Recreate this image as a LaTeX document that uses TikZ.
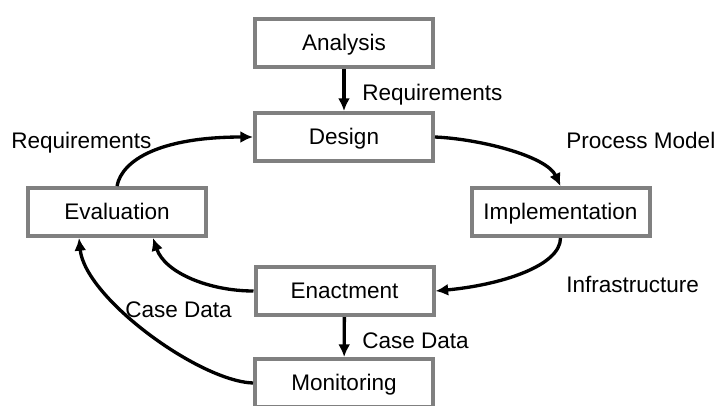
\documentclass[tikz,border=0pt]{standalone}
\usepackage{fontspec}
\setmainfont{Liberation Sans}
\usetikzlibrary{arrows.meta}

\tikzset{
  phase/.style={draw={rgb,255:red,128;green,128;blue,128}, line width=3pt, fill=white,
    minimum width=133.5pt, minimum height=36pt, inner sep=0pt, text height=11.25pt, text depth=0pt,
    font=\fontsize{16.9}{20}\selectfont},
  flow/.style={line width=2.5pt, -{Latex[length=9.5pt,width=9pt]}},
  lbl/.style={anchor=base west, inner sep=0pt, font=\fontsize{16.9}{20}\selectfont}
}

\begin{document}
\begin{tikzpicture}[x=0.75pt,y=0.75pt,yscale=-1]
\useasboundingbox (0,0) rectangle (722,405);

%Boxes
\node[phase] (analysis) at (344,43) {Analysis};
\node[phase] (design) at (344,137) {Design};
\node[phase] (evaluation) at (117,212) {Evaluation};
\node[phase] (implementation) at (560.5,212) {Implementation};
\node[phase] (enactment) at (344.5,291) {Enactment};
\node[phase] (monitoring) at (344,383) {Monitoring};

%Labels (placed at their baselines)
\node[lbl] (reqtop) at (362,100) {Requirements};
\node[lbl] (reqleft) at (11,148) {Requirements};
\node[lbl] (procmodel) at (566,148) {Process Model};
\node[lbl] (infra) at (566,292) {Infrastructure};
\node[lbl] (caseleft) at (125,317) {Case Data};
\node[lbl] (casebottom) at (362,348) {Case Data};

%Arrows
\draw[flow] (analysis) -- (design);
\draw[flow] (enactment) -- (monitoring);
\draw[flow] (design.east) .. controls +(45,2) and +(-14,-30) .. (implementation.north);
\draw[flow] (implementation.south) .. controls +(0,28) and +(65,-6) .. (enactment.east);
\draw[flow] (enactment.west) .. controls +(-44,0) and +(12,35) .. ([xshift=27pt]evaluation.south);
\draw[flow] (monitoring.west) .. controls +(-54,-2) and +(6,60) .. ([xshift=-28.5pt]evaluation.south);
\draw[flow] (evaluation.north) .. controls +(5,-26) and +(-93,0) .. (design.west);

\end{tikzpicture}
\end{document}
